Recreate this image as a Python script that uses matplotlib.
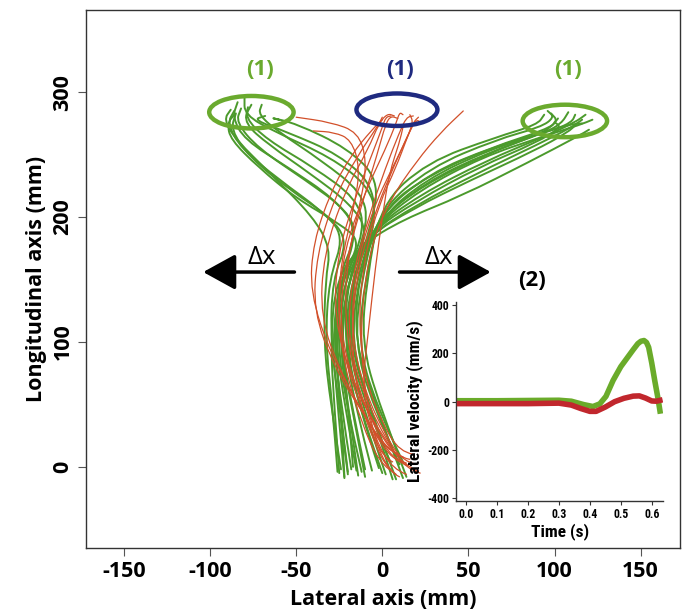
import matplotlib
matplotlib.use("Agg")
import matplotlib.pyplot as plt
from matplotlib import font_manager as fm
from matplotlib.font_manager import FontProperties
from matplotlib.patches import Ellipse, PathPatch
from matplotlib.path import Path

plt.rcParams['axes.unicode_minus'] = False

# trajectories, (lateral mm, longitudinal mm), bottom -> top
green_left = [
    [(-26, -4), (-29, 50), (-33, 100), (-31, 150), (-22, 185), (-35, 205), (-60, 230), (-82, 255), (-90, 275), (-86, 285)],
    [(-20, -6), (-25, 50), (-30, 100), (-29, 150), (-20, 180), (-30, 200), (-54, 222), (-77, 248), (-88, 270), (-85, 283)],
    [(-15, -3), (-22, 50), (-27, 100), (-26, 150), (-15, 185), (-20, 205), (-45, 230), (-72, 255), (-85, 276), (-82, 287)],
    [(-10, -8), (-18, 50), (-25, 100), (-22, 150), (-10, 190), (-15, 215), (-40, 240), (-67, 262), (-80, 280), (-76, 290)],
    [(0, -5), (-14, 50), (-22, 100), (-20, 150), (-8, 195), (-12, 220), (-35, 245), (-60, 268), (-72, 282), (-70, 290)],
    [(5, 3), (-10, 50), (-20, 100), (-18, 150), (-5, 192), (-5, 225), (-25, 250), (-55, 268), (-75, 278), (-68, 281)],
    [(-22, -8), (-24, 50), (-28, 100), (-25, 150), (-12, 180), (-25, 195), (-50, 215), (-72, 240), (-88, 262), (-90, 275), (-86, 282)],
    [(-17, 0), (-20, 50), (-24, 100), (-20, 150), (-8, 188), (-18, 210), (-42, 235), (-66, 258), (-80, 275), (-78, 288)],
    [(8, -10), (-8, 50), (-19, 100), (-17, 150), (-6, 195), (-2, 230), (-20, 255), (-50, 275), (-66, 280), (-60, 278)],
    [(-24, -2), (-30, 50), (-34, 100), (-33, 150), (-30, 175), (-40, 200), (-65, 235), (-85, 262), (-92, 278), (-88, 286)],
    [(-12, -4), (-21, 50), (-26, 100), (-24, 150), (-14, 190), (-28, 215), (-55, 240), (-80, 262), (-87, 280), (-84, 292)],
    [(12, -9), (-4, 50), (-16, 100), (-14, 150), (-3, 200), (-8, 225), (-30, 248), (-62, 268), (-80, 282), (-80, 296)],
]

green_right = [
    [(-25, -5), (-28, 50), (-30, 100), (-27, 150), (-12, 178), (12, 198), (46, 217), (85, 244), (114, 265), (120, 270)],
    [(-18, -2), (-24, 50), (-28, 100), (-24, 150), (-8, 185), (20, 210), (55, 235), (90, 258), (110, 272), (116, 278)],
    [(-14, -7), (-20, 50), (-25, 100), (-20, 150), (-6, 190), (22, 218), (60, 245), (95, 265), (112, 276), (118, 282)],
    [(-6, -3), (-16, 50), (-22, 100), (-18, 150), (-4, 195), (25, 228), (62, 252), (95, 268), (104, 275), (108, 284)],
    [(2, -6), (-12, 50), (-20, 100), (-15, 150), (-3, 200), (27, 235), (64, 256), (95, 270), (102, 277), (98, 283)],
    [(10, 2), (-6, 50), (-16, 100), (-12, 150), (-2, 205), (28, 240), (66, 262), (92, 272), (100, 280), (96, 285)],
    [(14, -8), (-2, 50), (-12, 100), (-9, 150), (-1, 210), (26, 244), (66, 264), (90, 274), (94, 282)],
    [(-22, -9), (-26, 50), (-29, 100), (-25, 150), (-10, 183), (18, 207), (52, 230), (88, 253), (108, 268), (113, 275)],
    [(-10, -2), (-18, 50), (-24, 100), (-20, 150), (-5, 192), (22, 222), (58, 248), (92, 264), (115, 274), (122, 278)],
    [(6, -10), (-8, 50), (-18, 100), (-14, 150), (-2, 198), (25, 230), (62, 254), (95, 268), (108, 274), (116, 275)],
    [(-2, -1), (-14, 50), (-21, 100), (-17, 150), (-4, 196), (24, 226), (60, 250), (90, 266), (98, 272), (102, 279)],
    [(12, 4), (-4, 50), (-14, 100), (-10, 150), (-1, 206), (30, 236), (68, 258), (100, 270), (110, 276), (112, 282)],
    [(-20, -4), (-25, 50), (-27, 100), (-22, 150), (-7, 188), (20, 213), (56, 240), (90, 260), (104, 272), (100, 276)],
]

red_center = [
    [(20, -3), (12, 2), (0, 25), (-15, 60), (-25, 110), (-22, 160), (-12, 210), (-3, 250), (2, 275), (5, 281), (9, 279)],
    [(16, 6), (8, 8), (-3, 30), (-18, 70), (-28, 120), (-26, 170), (-16, 215), (-6, 250), (0, 272), (2, 280), (5, 281)],
    [(22, -5), (14, -2), (3, 20), (-10, 55), (-20, 100), (-18, 150), (-8, 200), (2, 240), (10, 268), (14, 280), (18, 281)],
    [(12, 8), (4, 12), (-10, 40), (-28, 80), (-40, 125), (-38, 170), (-28, 215), (-14, 250), (-3, 272), (0, 280)],
    [(15, 1), (6, 5), (-6, 30), (-24, 75), (-36, 120), (-34, 170), (-22, 220), (-8, 255), (-2, 275), (3, 283), (7, 281)],
    [(10, -8), (4, -4), (-5, 20), (-15, 60), (-18, 110), (-14, 160), (-4, 205), (8, 245), (17, 272), (20, 278), (22, 276)],
    [(18, 10), (10, 12), (0, 35), (-10, 70), (-14, 120), (-10, 170), (-2, 210), (8, 240), (14, 262), (18, 276), (21, 280)],
    [(8, -6), (2, 0), (-6, 30), (-12, 80), (-12, 130), (-6, 180), (5, 215), (20, 245), (34, 268), (47, 285)],
    [(14, 3), (6, 6), (-4, 30), (-16, 70), (-22, 120), (-20, 170), (-12, 215), (-9, 245), (-14, 268), (-30, 276), (-50, 280)],
    [(6, 4), (0, 8), (-8, 35), (-20, 75), (-26, 120), (-24, 165), (-16, 210), (-13, 240), (-18, 262), (-28, 268), (-40, 269)],
    [(4, -2), (-2, 4), (-12, 35), (-22, 80), (-26, 125), (-22, 175), (-10, 220), (2, 255), (8, 275), (10, 284), (12, 282)],
    [(20, 2), (12, 4), (2, 25), (-10, 60), (-18, 105), (-16, 155), (-6, 205), (6, 240), (14, 262), (18, 276), (16, 282)],
    [(9, 10), (2, 14), (-10, 40), (-30, 90), (-42, 140), (-40, 180), (-30, 220), (-18, 250), (-6, 270), (0, 278)],
    [(14, -6), (6, -2), (-4, 22), (-12, 60), (-8, 110), (-4, 160), (0, 200), (4, 235), (10, 260), (12, 272)],
]

# inset: lateral velocity (mm/s) against time (s)
green_t = [-0.03, 0.0, 0.1, 0.2, 0.3, 0.34, 0.38, 0.41, 0.432, 0.452, 0.475, 0.50, 0.52, 0.54, 0.555,
           0.565, 0.575, 0.583, 0.59, 0.60, 0.61, 0.62, 0.628]
green_v = [4, 4, 4, 5, 6, 2, -12, -20, -9, 22, 88, 145, 180, 215, 240,
           250, 253, 245, 225, 160, 85, 15, -50]
red_t = [-0.03, 0.0, 0.1, 0.2, 0.3, 0.34, 0.37, 0.40, 0.42, 0.45, 0.48, 0.51, 0.54, 0.56, 0.58, 0.60, 0.615, 0.635]
red_v = [-8, -8, -8, -8, -6, -14, -28, -40, -40, -22, 0, 14, 23, 24, 15, 3, 2, 8]

x_ticks = [-150, -100, -50, 0, 50, 100, 150]
y_ticks = [0, 100, 200, 300]
inset_x_ticks = [0.0, 0.1, 0.2, 0.3, 0.4, 0.5, 0.6]
inset_y_ticks = [-400, -200, 0, 200, 400]

TRAJ_GREEN = '#4b9a2c'
TRAJ_RED = '#d2502a'
LIME = '#6aaa2e'
NAVY = '#1f2a80'


def weight_of(f):
    if isinstance(f.weight, int):
        return f.weight
    return fm.weight_dict.get(f.weight, 400)


def pick_bold(names):
    for name in names:
        for f in fm.fontManager.ttflist:
            if f.name == name and weight_of(f) >= 700 and f.style == 'normal':
                return f.fname
    return fm.findfont(FontProperties(family='DejaVu Sans', weight='bold'))


def pick_narrow_bold():
    prefs = ['Liberation Sans Narrow', 'Roboto Condensed', 'Open Sans Condensed',
             'Noto Sans Condensed', 'DejaVu Sans Condensed', 'Noto Sans', 'DejaVu Sans']
    found = []
    for f in fm.fontManager.ttflist:
        tag = (f.name + ' ' + f.fname).lower()
        narrow = ('narrow' in tag or 'condensed' in tag or
                  f.stretch in ('condensed', 'semi-condensed', 'extra-condensed'))
        if narrow and weight_of(f) >= 700 and f.style == 'normal' \
                and 'mono' not in tag and 'serif' not in tag and 'semicondensed' not in tag \
                and 'extracondensed' not in tag and 'black' not in tag and 'extrabold' not in tag:
            found.append(f)
    for p in prefs:
        for f in found:
            if f.name.startswith(p):
                return f.fname, True
    if found:
        return found[0].fname, True
    return MAIN_FILE, False


MAIN_FILE = pick_bold(['Open Sans', 'Lato', 'Noto Sans', 'Roboto', 'DejaVu Sans'])
NARROW_FILE, HAVE_NARROW = pick_narrow_bold()
REG_FILE = fm.findfont(FontProperties(family=['Open Sans', 'Lato', 'DejaVu Sans']))


def mainfp(size):
    return FontProperties(fname=MAIN_FILE, size=size)


def narrowfp(size):
    return FontProperties(fname=NARROW_FILE, size=size if HAVE_NARROW else size * 0.8)


def draw_track(ax, pts, color, lw, z):
    # points act as the control polygon of a smooth quadratic curve
    verts = [pts[0]]
    codes = [Path.MOVETO]
    for i in range(1, len(pts) - 1):
        nxt = ((pts[i][0] + pts[i + 1][0]) / 2, (pts[i][1] + pts[i + 1][1]) / 2)
        verts += [pts[i], nxt]
        codes += [Path.CURVE3, Path.CURVE3]
    verts.append(pts[-1])
    codes.append(Path.LINETO)
    ax.add_patch(PathPatch(Path(verts, codes), fill=False, ec=color, lw=lw,
                           capstyle='round', joinstyle='round', zorder=z))


fig = plt.figure(figsize=(6.83, 6.13), dpi=100)
ax = fig.add_axes([0.126, 0.106, 0.870, 0.878])

for traj in green_left + green_right:
    draw_track(ax, traj, TRAJ_GREEN, 1.4, 2)
for traj in red_center:
    draw_track(ax, traj, TRAJ_RED, 0.9, 3)

# target zones
ax.add_patch(Ellipse((-76, 284), 49, 26, fill=False, ec=LIME, lw=3.2, zorder=4))
ax.add_patch(Ellipse((8.5, 286), 47, 26, fill=False, ec=NAVY, lw=3.2, zorder=4))
ax.add_patch(Ellipse((106, 277), 49, 26, fill=False, ec=LIME, lw=3.2, zorder=4))

ax.text(-71, 318, '(1)', color=LIME, fontproperties=mainfp(16), ha='center', va='center')
ax.text(10, 318, '(1)', color=NAVY, fontproperties=mainfp(16), ha='center', va='center')
ax.text(108, 318, '(1)', color=LIME, fontproperties=mainfp(16), ha='center', va='center')
ax.text(87, 149, '(2)', color='black', fontproperties=mainfp(16), ha='center', va='center')

arrow = dict(arrowstyle='-|>,head_length=1.0,head_width=0.55', lw=2.5, color='black',
             shrinkA=0, shrinkB=0, mutation_scale=20)
ax.annotate('', xy=(-104, 156), xytext=(-51, 156), arrowprops=arrow)
ax.annotate('', xy=(63, 156), xytext=(10, 156), arrowprops=arrow)
ax.text(-70, 168, 'Δx', fontproperties=FontProperties(fname=REG_FILE, size=18.5), ha='center', va='center')
ax.text(33, 168, 'Δx', fontproperties=FontProperties(fname=REG_FILE, size=18.5), ha='center', va='center')

ax.set_xlim(-172, 173)
ax.set_ylim(-65, 366)
ax.set_xticks(x_ticks)
ax.set_yticks(y_ticks)
ax.set_xticklabels([str(v) for v in x_ticks], fontproperties=mainfp(15.5))
ax.set_yticklabels([str(v) for v in y_ticks], fontproperties=mainfp(15.5), rotation=90, va='center')
ax.tick_params(length=6, width=0.8, color='#555555', pad=3)
for sp in ax.spines.values():
    sp.set_color('#333333')
    sp.set_linewidth(1.0)
ax.set_xlabel('Lateral axis (mm)', fontproperties=mainfp(15.5))
ax.xaxis.set_label_coords(0.5, -0.095)
ax.xaxis.label.set_va('center')
ax.set_ylabel('Longitudinal axis (mm)', fontproperties=mainfp(15.5), labelpad=4)

# inset velocity profile
ins = fig.add_axes([0.668, 0.183, 0.303, 0.325])
ins.patch.set_alpha(0)
ins.plot(green_t, green_v, color='#6aab2a', lw=4, solid_capstyle='butt', solid_joinstyle='round', zorder=2)
ins.plot(red_t, red_v, color='#c1272d', lw=4, solid_capstyle='butt', solid_joinstyle='round', zorder=3)
ins.set_xlim(-0.032, 0.637)
ins.set_ylim(-410, 414)
ins.set_xticks(inset_x_ticks)
ins.set_yticks(inset_y_ticks)
ins.set_xticklabels(['%.1f' % v for v in inset_x_ticks], fontproperties=narrowfp(8.5))
ins.set_yticklabels([str(v) for v in inset_y_ticks], fontproperties=narrowfp(8.5))
ins.tick_params(length=3, width=0.8, color='#333333', pad=2)
ins.spines['top'].set_visible(False)
ins.spines['right'].set_visible(False)
for s in ('left', 'bottom'):
    ins.spines[s].set_color('#333333')
    ins.spines[s].set_linewidth(1.0)
ins.set_xlabel('Time (s)', fontproperties=narrowfp(12.5), labelpad=2)
ins.set_ylabel('Lateral velocity (mm/s)', fontproperties=narrowfp(12.5), labelpad=3)

fig.savefig('out.png', dpi=100)
